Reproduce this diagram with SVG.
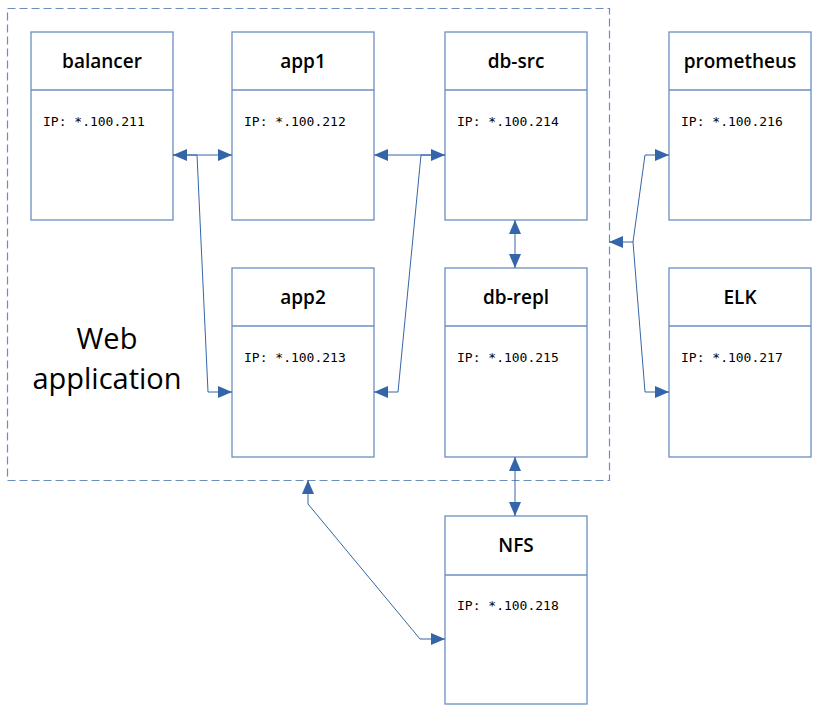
<svg xmlns="http://www.w3.org/2000/svg" width="822" height="716" viewBox="0 0 822 716">
<defs>
<style>
.box{fill:#ffffff;stroke:#6c8ebf;stroke-width:1.3}
.div{stroke:#6c8ebf;stroke-width:1.3;fill:none}
.title{font-family:"Open Sans","Noto Sans",sans-serif;font-size:19px;font-weight:600;fill:#000;text-anchor:middle}
.ip{font-family:"DejaVu Sans Mono","Liberation Mono",monospace;font-size:13px;fill:#000}
.con{fill:none;stroke:#3465a8;stroke-width:1}
.big{font-family:"Open Sans","Noto Sans",sans-serif;font-size:29px;font-weight:500;fill:#000;text-anchor:middle}
</style>
<marker id="ah" viewBox="0 0 14 12" refX="14" refY="6" markerWidth="14" markerHeight="12" markerUnits="userSpaceOnUse" orient="auto-start-reverse">
<path d="M0,0 L14,6 L0,12 Z" fill="#3465a8"/>
</marker>
</defs>
<rect width="822" height="716" fill="#ffffff"/>
<g id="webapp-group">
<rect x="7.5" y="8.5" width="602" height="472" fill="none" stroke="#6c8ebf" stroke-width="1.2" stroke-dasharray="8,4"/>
<text class="big" x="107" y="349">Web</text>
<text class="big" x="107" y="389">application</text>
</g>
<g id="balancer">
<rect class="box" x="31" y="32" width="142" height="188"/>
<line class="div" x1="31" y1="90" x2="173" y2="90"/>
<text class="title" x="102" y="68">balancer</text>
<text class="ip" x="43" y="126">IP: *.100.211</text>
</g>
<g id="app1">
<rect class="box" x="232" y="32" width="142" height="188"/>
<line class="div" x1="232" y1="90" x2="374" y2="90"/>
<text class="title" x="303" y="68">app1</text>
<text class="ip" x="244" y="126">IP: *.100.212</text>
</g>
<g id="db-src">
<rect class="box" x="445" y="32" width="142" height="188"/>
<line class="div" x1="445" y1="90" x2="587" y2="90"/>
<text class="title" x="516" y="68">db-src</text>
<text class="ip" x="457" y="126">IP: *.100.214</text>
</g>
<g id="prometheus">
<rect class="box" x="669" y="32" width="142" height="188"/>
<line class="div" x1="669" y1="90" x2="811" y2="90"/>
<text class="title" x="740" y="68">prometheus</text>
<text class="ip" x="681" y="126">IP: *.100.216</text>
</g>
<g id="app2">
<rect class="box" x="232" y="268" width="142" height="189"/>
<line class="div" x1="232" y1="326" x2="374" y2="326"/>
<text class="title" x="303" y="304">app2</text>
<text class="ip" x="244" y="362">IP: *.100.213</text>
</g>
<g id="db-repl">
<rect class="box" x="445" y="268" width="142" height="189"/>
<line class="div" x1="445" y1="326" x2="587" y2="326"/>
<text class="title" x="516" y="304">db-repl</text>
<text class="ip" x="457" y="362">IP: *.100.215</text>
</g>
<g id="ELK">
<rect class="box" x="669" y="268" width="142" height="189"/>
<line class="div" x1="669" y1="326" x2="811" y2="326"/>
<text class="title" x="740" y="304">ELK</text>
<text class="ip" x="681" y="362">IP: *.100.217</text>
</g>
<g id="NFS">
<rect class="box" x="445" y="516" width="142" height="188"/>
<line class="div" x1="445" y1="575" x2="587" y2="575"/>
<text class="title" x="516" y="552">NFS</text>
<text class="ip" x="457" y="610">IP: *.100.218</text>
</g>
<g id="connectors">
<path class="con" d="M173,155 L232,155" marker-start="url(#ah)" marker-end="url(#ah)"/>
<path class="con" d="M173,155 L197,155 L208,392 L232,392" marker-end="url(#ah)"/>
<path class="con" d="M374,155 L445,155" marker-start="url(#ah)" marker-end="url(#ah)"/>
<path class="con" d="M445,155 L421,155 L398,392 L374,392" marker-end="url(#ah)"/>
<path class="con" d="M515,220 L515,268" marker-start="url(#ah)" marker-end="url(#ah)"/>
<path class="con" d="M515,457 L515,516" marker-start="url(#ah)" marker-end="url(#ah)"/>
<path class="con" d="M609,242 L633,242 L645,155 L669,155" marker-start="url(#ah)" marker-end="url(#ah)"/>
<path class="con" d="M633,242 L645,392 L669,392" marker-end="url(#ah)"/>
<path class="con" d="M308,480 L308,504 L420,639 L445,639" marker-start="url(#ah)" marker-end="url(#ah)"/>
</g>
</svg>
